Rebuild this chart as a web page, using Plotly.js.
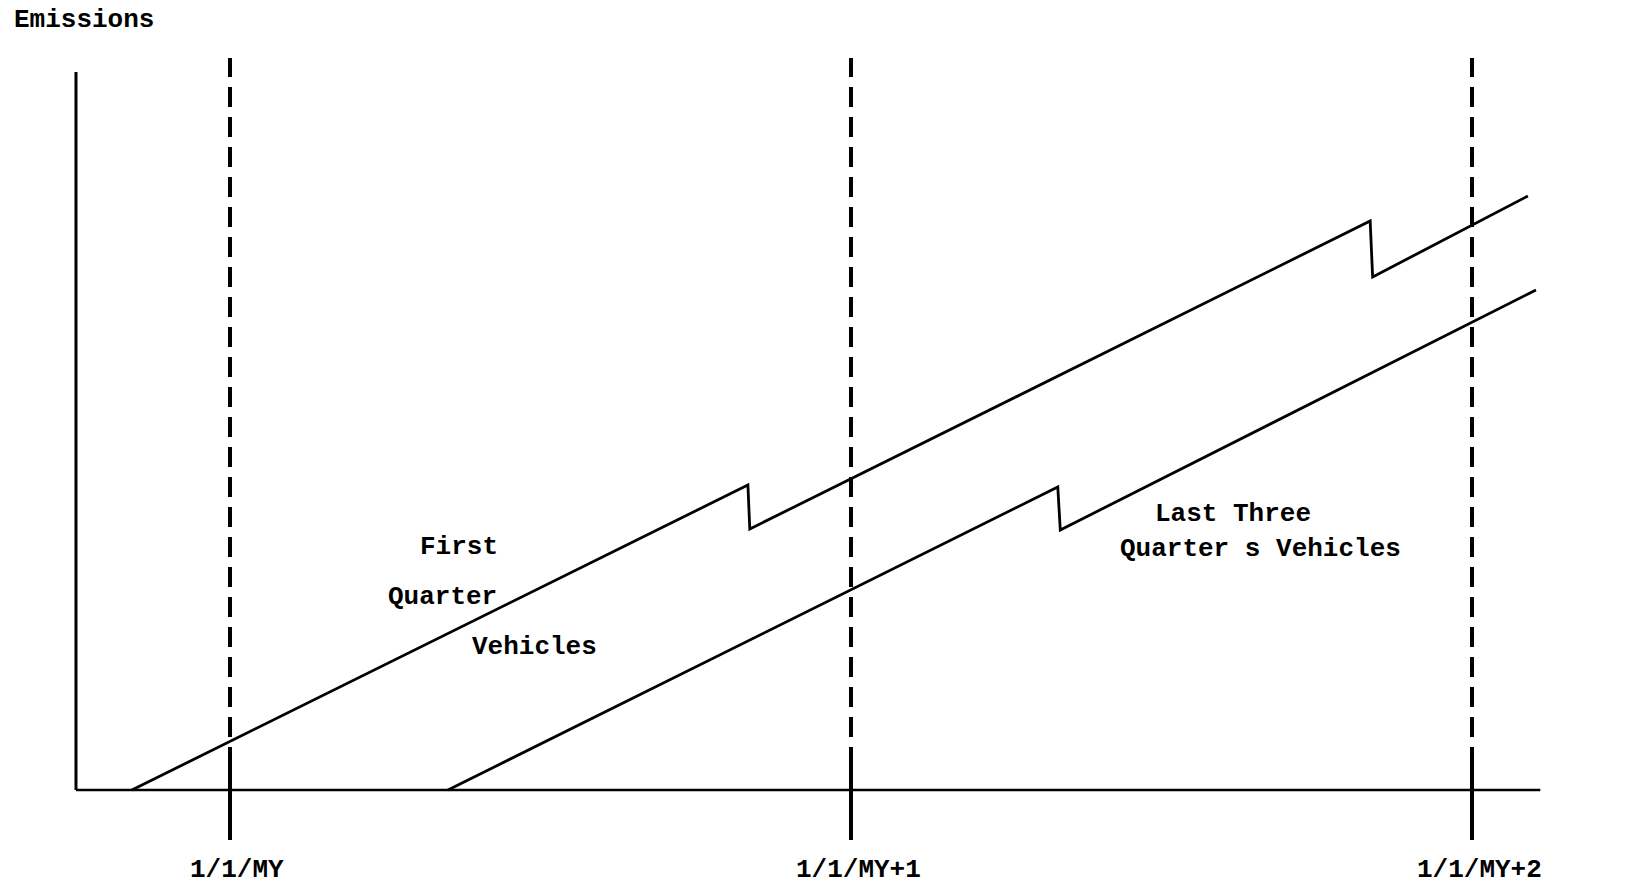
<!DOCTYPE html>
<html>
<head>
<meta charset="utf-8">
<script src="https://cdn.plot.ly/plotly-3.0.1.min.js"></script>
<style>
  html, body { margin: 0; padding: 0; background: #fff; }
  #chart { width: 1652px; height: 886px; }
</style>
</head>
<body>
<div id="chart"></div>
<script>
// time in model years (0 = 1/1/MY), emissions in arbitrary units
var yearTicks = [0, 1, 2];
var tickLabels = ['1/1/MY', '1/1/MY+1', '1/1/MY+2'];

// first quarter vehicles: rise, drop at inspection, rise, drop, rise
var firstQtrX = [-0.158, 0.834, 0.837, 1.836, 1.840, 2.090];
var firstQtrY = [0, 3.05, 2.61, 5.69, 5.13, 5.94];

// last three quarters vehicles
var lastQtrX = [0.351, 1.333, 1.337, 2.103];
var lastQtrY = [0, 3.03, 2.60, 5.00];

// axis extents
var axisX = [-0.248, 2.110];
var axisYTop = 7.18;
var dashTop = 7.32;

var fontFam = '"Liberation Mono", "Courier New", monospace';

var lineStyle = { color: '#000', width: 2.8 };

var data = [
  { x: firstQtrX, y: firstQtrY, type: 'scatter', mode: 'lines', line: lineStyle, hoverinfo: 'skip' },
  { x: lastQtrX, y: lastQtrY, type: 'scatter', mode: 'lines', line: lineStyle, hoverinfo: 'skip' }
];

var shapes = [
  // y axis
  { type: 'line', xref: 'x', yref: 'y', x0: axisX[0], x1: axisX[0], y0: 0, y1: axisYTop,
    line: { color: '#000', width: 3 } },
  // x axis
  { type: 'line', xref: 'x', yref: 'y', x0: axisX[0], x1: axisX[1], y0: 0, y1: 0,
    line: { color: '#000', width: 2.6 } }
];

yearTicks.forEach(function (t) {
  shapes.push({ type: 'line', xref: 'x', yref: 'y', x0: t, x1: t, y0: 0.23, y1: dashTop,
    line: { color: '#000', width: 4, dash: '20px,10px' } });
  shapes.push({ type: 'line', xref: 'x', yref: 'y', x0: t, x1: t, y0: -0.5, y1: 0.23,
    line: { color: '#000', width: 4 } });
});

var txtFont = { family: fontFam, size: 26, color: '#000', weight: 'bold' };

var annotations = [
  { text: 'Emissions', xref: 'paper', yref: 'paper', x: 12 / 1652, y: 1 - 20 / 886,
    xanchor: 'left', yanchor: 'middle', showarrow: false, font: txtFont },
  { text: 'Time', xref: 'x', yref: 'y', x: 2.340, y: 0.04,
    xanchor: 'left', yanchor: 'middle', showarrow: false, font: txtFont },
  { text: 'First', xref: 'x', yref: 'y', x: 0.369, y: 2.43,
    xanchor: 'center', yanchor: 'middle', showarrow: false, font: txtFont },
  { text: 'Quarter', xref: 'x', yref: 'y', x: 0.342, y: 1.93,
    xanchor: 'center', yanchor: 'middle', showarrow: false, font: txtFont },
  { text: 'Vehicles', xref: 'x', yref: 'y', x: 0.491, y: 1.43,
    xanchor: 'center', yanchor: 'middle', showarrow: false, font: txtFont },
  { text: 'Last Three', xref: 'x', yref: 'y', x: 1.615, y: 2.76,
    xanchor: 'center', yanchor: 'middle', showarrow: false, font: txtFont },
  { text: 'Quarter s Vehicles', xref: 'x', yref: 'y', x: 1.659, y: 2.41,
    xanchor: 'center', yanchor: 'middle', showarrow: false, font: txtFont }
];

yearTicks.forEach(function (t, i) {
  annotations.push({ text: tickLabels[i], xref: 'x', yref: 'y', x: t + 0.012, y: -0.80,
    xanchor: 'center', yanchor: 'middle', showarrow: false, font: txtFont });
});

var layout = {
  width: 1652,
  height: 886,
  margin: { l: 0, r: 0, t: 0, b: 0 },
  paper_bgcolor: '#fff',
  plot_bgcolor: '#fff',
  showlegend: false,
  xaxis: { range: [-230 / 621, 1422 / 621], visible: false, fixedrange: true },
  yaxis: { range: [-0.96, 7.90], visible: false, fixedrange: true },
  shapes: shapes,
  annotations: annotations
};

Plotly.newPlot('chart', data, layout, { staticPlot: true });
</script>
</body>
</html>
